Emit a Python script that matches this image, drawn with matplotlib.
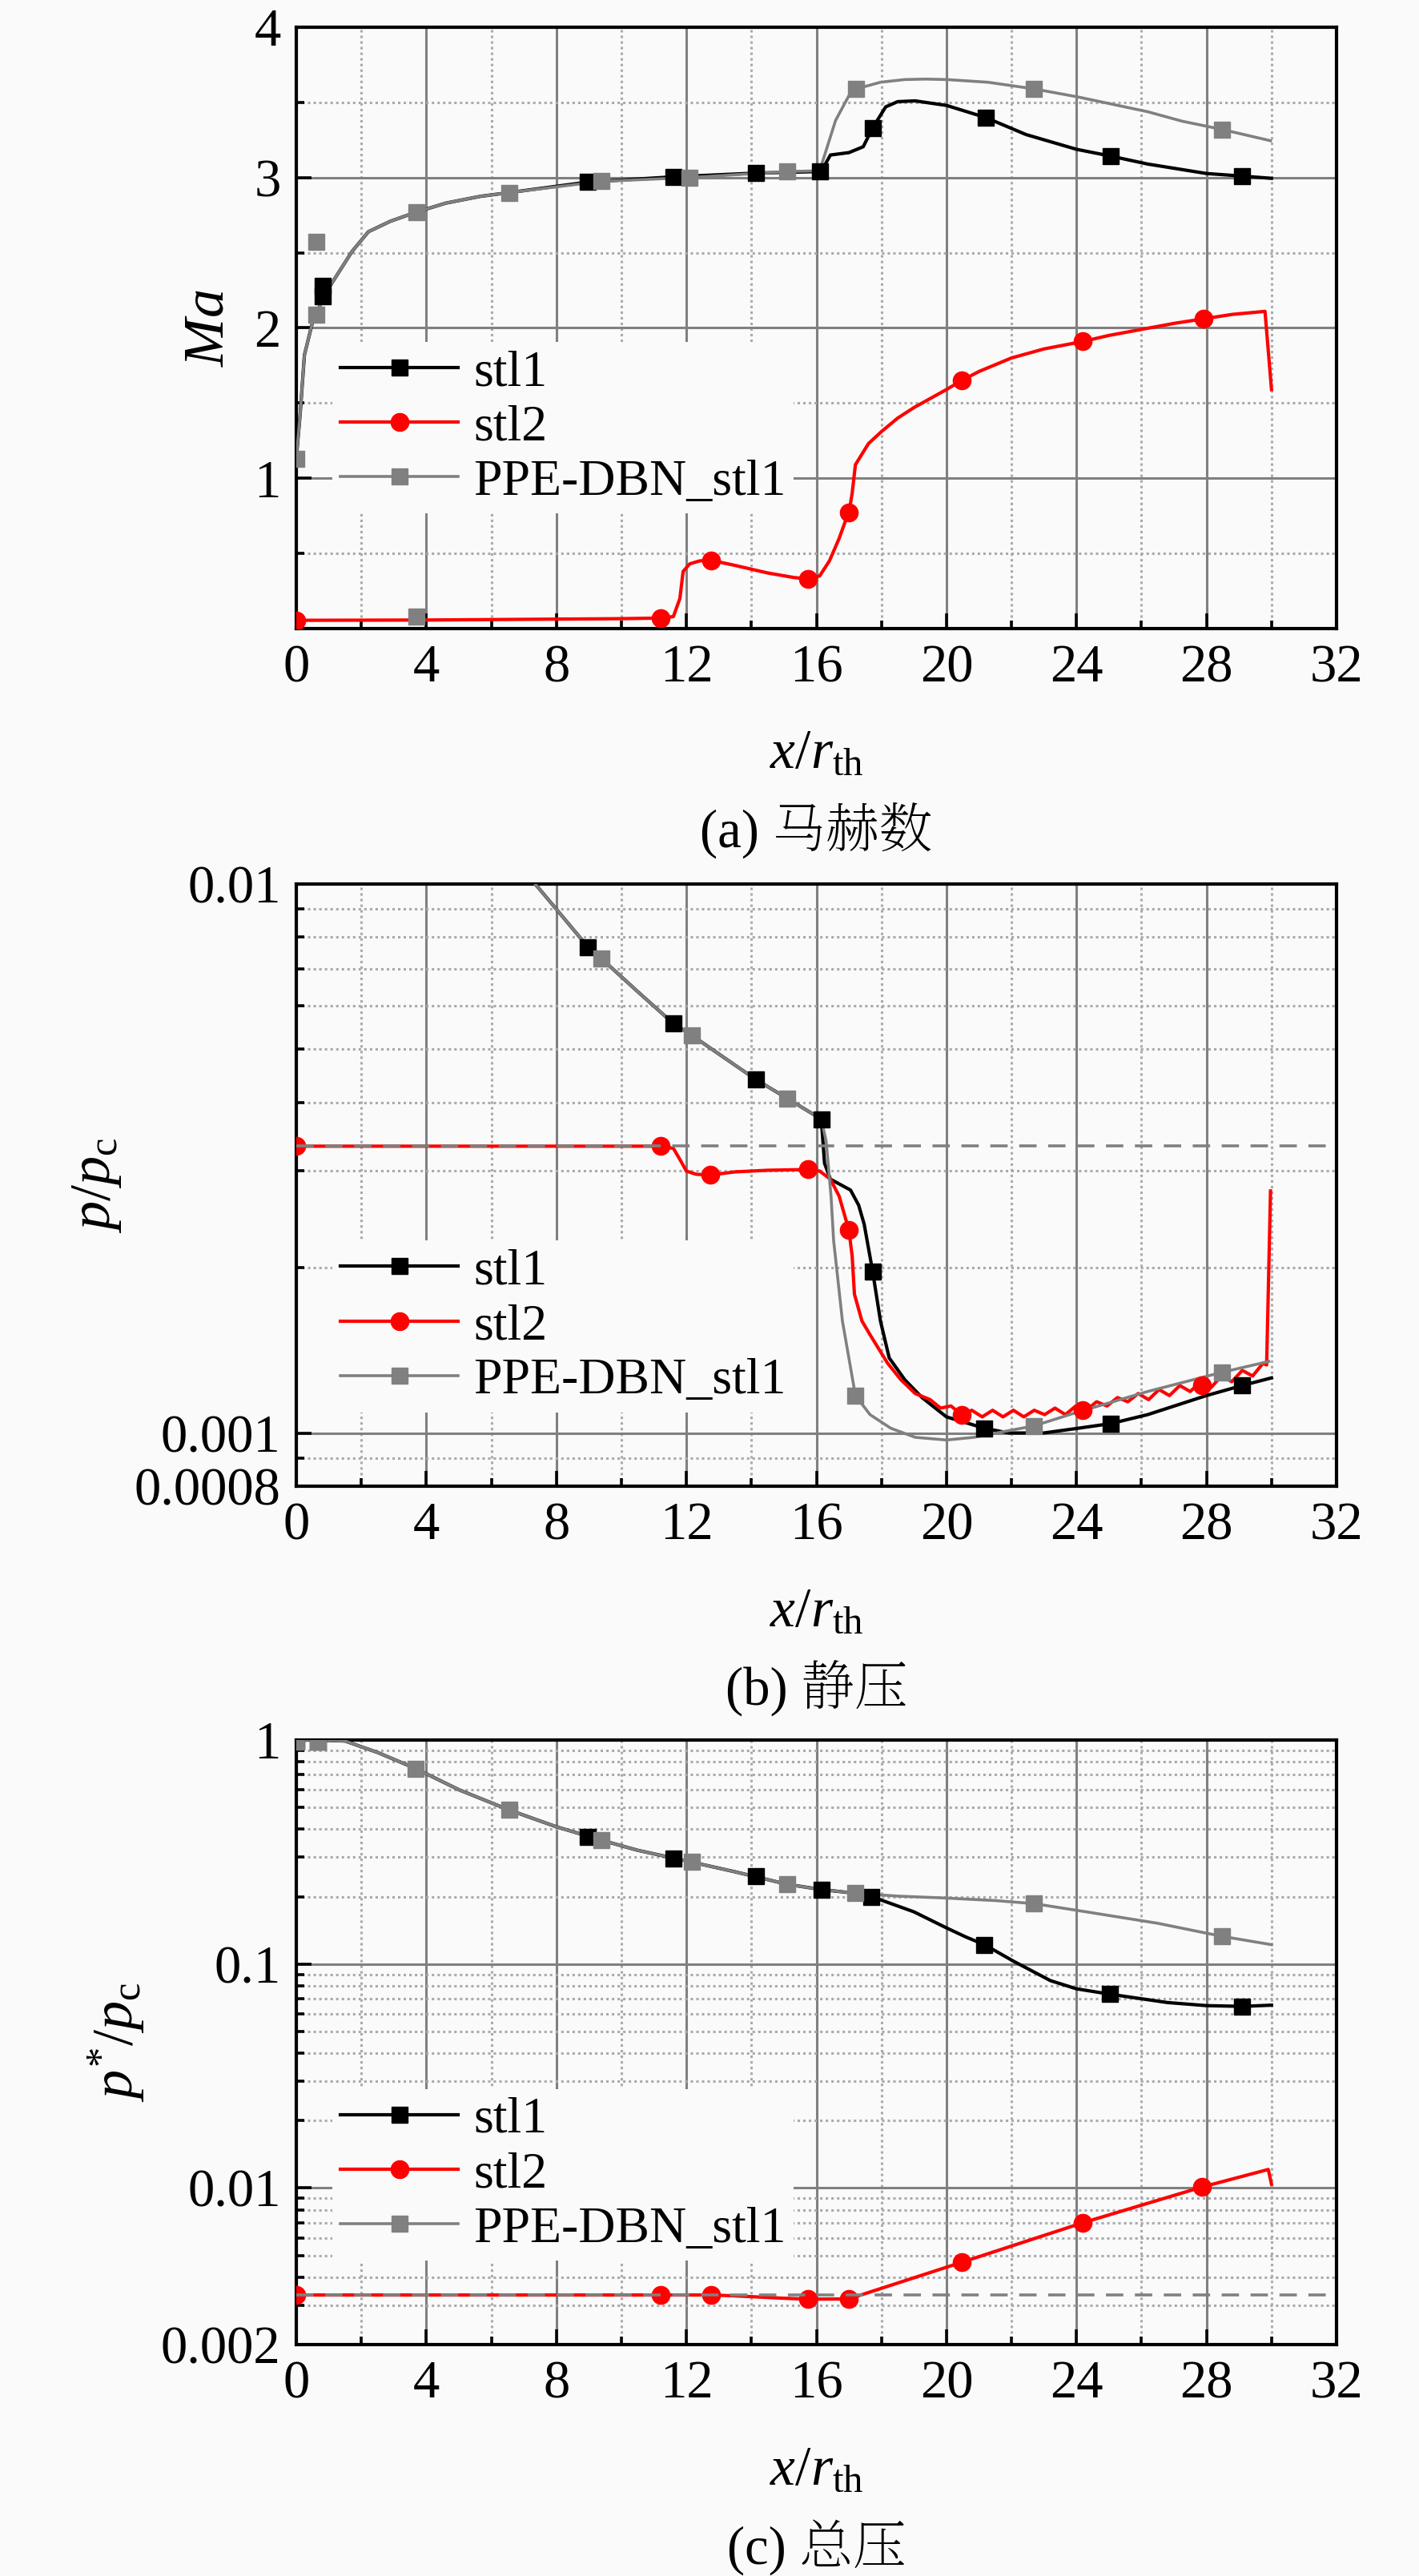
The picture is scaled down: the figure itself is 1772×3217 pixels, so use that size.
import matplotlib
matplotlib.use("Agg")
import matplotlib.pyplot as plt
from matplotlib.lines import Line2D
from matplotlib.ticker import FixedLocator, NullFormatter

plt.rcParams['font.family'] = ['Liberation Serif', 'Noto Serif SC', 'Noto Sans CJK SC']
plt.rcParams['mathtext.fontset'] = 'custom'
plt.rcParams['mathtext.rm'] = 'Liberation Serif'
plt.rcParams['mathtext.it'] = 'Liberation Serif:italic'

BG = '#fafafa'
GRAY = '#808080'
FONTS = ['Liberation Serif', 'Noto Serif SC', 'Noto Sans CJK SC']

# ---------------- (a) Mach number ----------------
ma_stl1_x = [0, 0.12, 0.25, 0.49, 0.62, 0.82, 1.1, 1.72, 2.22, 2.9, 3.69, 4.6, 5.66, 6.55, 8.97, 11.6,
             14.15, 16.1, 16.2, 16.43, 17.0, 17.44, 17.73, 18.13, 18.5, 19.04, 20.0, 21.2, 22.45, 24.0,
             25.05, 26.19, 28.0, 29.09, 30.0]
ma_stl1_y = [1.13, 1.43, 1.82, 2.03, 2.09, 2.2, 2.30, 2.51, 2.64, 2.71, 2.77, 2.83, 2.875, 2.90, 2.97,
             3.005, 3.03, 3.04, 3.06, 3.15, 3.166, 3.205, 3.33, 3.47, 3.505, 3.51, 3.48, 3.40, 3.286,
             3.188, 3.143, 3.09, 3.027, 3.01, 2.995]
ma_stl1_mx = [0.82, 0.82, 8.97, 11.6, 14.15, 16.1, 17.73, 21.2, 25.05, 29.09]
ma_stl1_my = [2.21, 2.28, 2.97, 3.005, 3.03, 3.04, 3.33, 3.40, 3.143, 3.01]

ma_ppe_x = [0, 0.12, 0.25, 0.49, 0.62, 0.82, 1.1, 1.72, 2.22, 2.9, 3.69, 4.6, 5.66, 6.55, 9.39, 12.1,
            15.1, 16.1, 16.59, 17.0, 17.23, 17.97, 18.72, 19.36, 20.0, 21.28, 22.69, 24.05, 26.19,
            27.25, 28.48, 29.97]
ma_ppe_y = [1.13, 1.43, 1.82, 2.03, 2.09, 2.2, 2.30, 2.51, 2.64, 2.71, 2.77, 2.83, 2.875, 2.90, 2.975,
            3.0, 3.04, 3.045, 3.38, 3.545, 3.59, 3.634, 3.652, 3.655, 3.652, 3.634, 3.59, 3.536, 3.438,
            3.375, 3.32, 3.245]
ma_ppe_mx = [0, 0.62, 0.62, 3.69, 3.69, 6.55, 9.39, 12.1, 15.1, 17.23, 22.69, 28.48]
ma_ppe_my = [1.13, 2.09, 2.57, 2.77, 0.08, 2.90, 2.975, 3.0, 3.04, 3.59, 3.59, 3.32]

ma_stl2_x = [0, 2, 4, 6, 8, 10, 11.2, 11.6, 11.8, 11.9, 12.1, 12.4, 12.75, 13.5, 14.5, 15.3, 15.74,
             16.1, 16.4, 16.7, 16.9, 17.0, 17.1, 17.2, 17.6, 18.0, 18.5, 19.0, 19.5, 20.0, 20.47, 21.0,
             22.0, 23.0, 24.2, 25.0, 26.0, 27.0, 27.9, 28.8, 29.8, 30.0]
ma_stl2_y = [0.055, 0.056, 0.057, 0.06, 0.063, 0.066, 0.07, 0.08, 0.2, 0.38, 0.43, 0.45, 0.455, 0.42,
             0.37, 0.34, 0.33, 0.35, 0.45, 0.6, 0.72, 0.77, 0.9, 1.09, 1.23, 1.31, 1.40, 1.47, 1.53,
             1.59, 1.65, 1.71, 1.80, 1.86, 1.91, 1.95, 1.99, 2.03, 2.06, 2.09, 2.11, 1.59]
ma_stl2_mx = [0, 11.2, 12.75, 15.74, 17.0, 20.47, 24.2, 27.9]
ma_stl2_my = [0.055, 0.07, 0.455, 0.33, 0.77, 1.65, 1.91, 2.06]

# ---------------- (b) static pressure ----------------
p_ppe_x = [6.5, 7.35, 8.0, 8.97, 9.39, 10.5, 11.6, 12.17, 13.2, 14.15, 15.1, 16.15, 16.3, 16.45,
           16.53, 16.8, 17.2, 17.65, 18.29, 19.04, 20.0, 20.85, 21.92, 22.69, 24.0, 26.19, 28.48, 29.92]
p_ppe_y = [0.0116, 0.0100, 0.0090, 0.00768, 0.00731, 0.00637, 0.00557, 0.00530, 0.00481, 0.00440,
           0.00407, 0.00373, 0.0034, 0.0027, 0.00224, 0.0016, 0.00117, 0.00108, 0.00102, 0.000982,
           0.000971, 0.000982, 0.00101, 0.00103, 0.00109, 0.00119, 0.00129, 0.00135]
p_ppe_mx = [9.39, 12.17, 15.1, 17.2, 22.69, 28.48]
p_ppe_my = [0.00731, 0.00530, 0.00407, 0.00117, 0.00103, 0.00129]

p_stl1_x = [6.5, 7.35, 8.0, 8.97, 9.39, 10.5, 11.6, 12.17, 13.2, 14.15, 15.1, 16.15, 16.25, 16.43,
            17.05, 17.3, 17.47, 17.73, 17.97, 18.24, 18.72, 19.25, 20.0, 21.17, 21.92, 22.99, 24.05,
            25.05, 26.19, 28.0, 29.09, 30.0]
p_stl1_y = [0.0116, 0.0100, 0.0090, 0.00768, 0.00731, 0.00637, 0.00557, 0.00530, 0.00481, 0.00440,
            0.00407, 0.00373, 0.0031, 0.0029, 0.00277, 0.0026, 0.0024, 0.00197, 0.0016, 0.00137,
            0.00125, 0.00116, 0.00107, 0.00102, 0.00100, 0.00100, 0.00102, 0.00104, 0.00108, 0.00117,
            0.00122, 0.00126]
p_stl1_mx = [8.97, 11.6, 14.15, 16.15, 17.73, 21.17, 25.05, 29.09]
p_stl1_my = [0.00768, 0.00557, 0.00440, 0.00373, 0.00197, 0.00102, 0.00104, 0.00122]

p_stl2_x = [0, 11.2, 11.6, 11.8, 12.0, 12.3, 12.73, 13.5, 14.5, 15.74, 16.1, 16.43, 16.7, 17.0, 17.1,
            17.17, 17.4, 17.65, 18.19, 18.6, 19.04, 19.5, 19.82, 20.14, 20.46, 20.78, 21.10, 21.42,
            21.74, 22.06, 22.38, 22.70, 23.02, 23.34, 23.66, 23.98, 24.30, 24.62, 24.94, 25.26, 25.58,
            25.90, 26.22, 26.54, 26.86, 27.18, 27.50, 27.82, 28.14, 28.46, 28.78, 29.10, 29.42, 29.74,
            29.85, 29.97]
p_stl2_y = [0.00333, 0.00333, 0.00330, 0.00315, 0.00300, 0.00296, 0.00295, 0.00299, 0.00301, 0.00302,
            0.00300, 0.00290, 0.00270, 0.00234, 0.00210, 0.00179, 0.00160, 0.00151, 0.00134, 0.00125,
            0.00118, 0.00115, 0.00111, 0.00112, 0.00108, 0.00110, 0.00107, 0.00110, 0.00107,
            0.00110, 0.00107, 0.00110, 0.00108, 0.00111, 0.00108, 0.00112, 0.00110, 0.00114,
            0.00112, 0.00116, 0.00114, 0.00118, 0.00115, 0.00120, 0.00117, 0.00122, 0.00119,
            0.00124, 0.00121, 0.00127, 0.00124, 0.00130, 0.00127, 0.00134, 0.00133, 0.00276]
p_stl2_mx = [0, 11.2, 12.73, 15.74, 17.0, 20.47, 24.2, 27.86]
p_stl2_my = [0.00333, 0.00333, 0.00295, 0.00302, 0.00234, 0.00108, 0.00110, 0.00122]

# ---------------- (c) total pressure ----------------
pt_ppe_x = [0, 0.67, 1.5, 2.5, 3.68, 5.0, 6.55, 8.0, 9.39, 10.5, 12.17, 13.5, 15.1, 16.15, 17.19,
            18.5, 20.0, 21.5, 22.7, 24.3, 26.5, 28.47, 30.0]
pt_ppe_y = [1.0, 1.0, 0.99, 0.88, 0.745, 0.60, 0.487, 0.41, 0.357, 0.322, 0.285, 0.258, 0.227, 0.215,
            0.207, 0.201, 0.197, 0.192, 0.186, 0.171, 0.152, 0.133, 0.122]
pt_ppe_mx = [0, 0.67, 3.68, 6.55, 9.39, 12.17, 15.1, 17.19, 22.7, 28.47]
pt_ppe_my = [0.98, 0.98, 0.745, 0.487, 0.357, 0.285, 0.227, 0.207, 0.186, 0.133]

pt_stl1_x = [0, 0.67, 1.5, 2.5, 3.68, 5.0, 6.55, 8.0, 9.39, 10.5, 12.17, 13.5, 15.1, 16.15, 17.19,
             17.69, 18.3, 19.0, 20.0, 20.6, 21.17, 22.06, 23.2, 24.0, 25.04, 26.8, 28.0, 29.1, 30.0]
pt_stl1_y = [1.0, 1.0, 0.99, 0.88, 0.745, 0.60, 0.487, 0.41, 0.357, 0.322, 0.285, 0.258, 0.227, 0.215,
             0.207, 0.200, 0.186, 0.171, 0.145, 0.132, 0.122, 0.103, 0.0843, 0.0775, 0.0733, 0.0673,
             0.0652, 0.0647, 0.0655]
pt_stl1_mx = [0, 0.67, 8.97, 11.6, 14.15, 16.15, 17.69, 21.17, 25.04, 29.1]
pt_stl1_my = [0.98, 0.98, 0.37, 0.296, 0.246, 0.215, 0.200, 0.122, 0.0733, 0.0647]

pt_stl2_x = [0, 11.2, 12.75, 13.5, 15.0, 15.74, 17.0, 20.47, 24.2, 27.86, 29.9, 30.0]
pt_stl2_y = [0.00333, 0.00333, 0.00333, 0.00330, 0.00322, 0.00319, 0.00320, 0.00466, 0.0070, 0.0101,
             0.0121, 0.0104]
pt_stl2_mx = [0, 11.2, 12.75, 15.74, 17.0, 20.47, 24.2, 27.86]
pt_stl2_my = [0.00333, 0.00333, 0.00333, 0.00319, 0.00320, 0.00466, 0.0070, 0.0101]

ref_level = 0.00333

names = ['stl1', 'stl2', 'PPE-DBN_stl1']
x_ticks = [0, 4, 8, 12, 16, 20, 24, 28, 32]
x_minor = [2, 6, 10, 14, 18, 22, 26, 30]

fig = plt.figure(figsize=(17.72, 32.17), dpi=100, facecolor=BG)

W, H = 1772, 3217
def box(top, bottom):
    return [370 / W, 1 - bottom / H, 1299 / W, (bottom - top) / H]

ax_a = fig.add_axes(box(34, 785))
ax_b = fig.add_axes(box(1104, 1856))
ax_c = fig.add_axes(box(2173, 2928))

sq = dict(marker='s', ms=15, ls='none')
ci = dict(marker='o', ms=16, ls='none')


def draw(ax, s1, s2, pp):
    ax.plot(s1[0], s1[1], color='black', lw=3, zorder=3)
    ax.plot(s2[0], s2[1], color='red', lw=3, zorder=3)
    ax.plot(pp[0], pp[1], color=GRAY, lw=2.6, zorder=4)
    ax.plot(s1[2], s1[3], color='black', zorder=5, **sq)
    ax.plot(s2[2], s2[3], color='red', zorder=5, **ci)
    ax.plot(pp[2], pp[3], color=GRAY, zorder=6, **sq)


draw(ax_a, (ma_stl1_x, ma_stl1_y, ma_stl1_mx, ma_stl1_my),
     (ma_stl2_x, ma_stl2_y, ma_stl2_mx, ma_stl2_my),
     (ma_ppe_x, ma_ppe_y, ma_ppe_mx, ma_ppe_my))
draw(ax_b, (p_stl1_x, p_stl1_y, p_stl1_mx, p_stl1_my),
     (p_stl2_x, p_stl2_y, p_stl2_mx, p_stl2_my),
     (p_ppe_x, p_ppe_y, p_ppe_mx, p_ppe_my))
draw(ax_c, (pt_stl1_x, pt_stl1_y, pt_stl1_mx, pt_stl1_my),
     (pt_stl2_x, pt_stl2_y, pt_stl2_mx, pt_stl2_my),
     (pt_ppe_x, pt_ppe_y, pt_ppe_mx, pt_ppe_my))

for ax in (ax_b, ax_c):
    ax.axhline(ref_level, color=GRAY, lw=2.6, ls=(0, (6, 4)), zorder=7)

ax_a.set_ylim(0, 4)
ax_a.set_yticks([1, 2, 3, 4])
ax_a.yaxis.set_minor_locator(FixedLocator([0.5, 1.5, 2.5, 3.5]))

ax_b.set_yscale('log')
ax_b.set_ylim(0.0008, 0.01)
ax_b.yaxis.set_major_locator(FixedLocator([0.0008, 0.001, 0.01]))
ax_b.set_yticklabels(['0.0008', '0.001', '0.01'])
ax_b.yaxis.set_minor_locator(FixedLocator([0.0009] + [k * 0.001 for k in range(2, 10)]))

ax_c.set_yscale('log')
ax_c.set_ylim(0.002, 1)
ax_c.yaxis.set_major_locator(FixedLocator([0.002, 0.01, 0.1, 1]))
ax_c.set_yticklabels(['0.002', '0.01', '0.1', '1'])
ax_c.yaxis.set_minor_locator(FixedLocator([k * 0.001 for k in range(3, 10)] +
                                          [k * 0.01 for k in range(2, 10)] +
                                          [k * 0.1 for k in range(2, 10)]))

ylabels = [r'$Ma$', r'$p/p_{\mathrm{c}}$', r'$p^{*}/p_{\mathrm{c}}$']
ylab_x = [-0.084, -0.192, -0.173]
titles = ['(a) 马赫数', '(b) 静压', '(c) 总压']
leg_y = [0.334, 0.265, 0.281]

for ax, yl, lx, ti, ly in zip((ax_a, ax_b, ax_c), ylabels, ylab_x, titles, leg_y):
    ax.set_facecolor(BG)
    ax.set_xlim(0, 32)
    ax.set_xticks(x_ticks)
    ax.xaxis.set_minor_locator(FixedLocator(x_minor))
    ax.yaxis.set_minor_formatter(NullFormatter())
    ax.set_axisbelow(True)
    ax.grid(which='major', color=GRAY, lw=2.2, ls='-', zorder=0)
    ax.grid(which='minor', color='#aaaaaa', lw=2.2, ls=(0, (1, 1.3)), zorder=0)
    ax.tick_params(which='both', direction='in', top=False, right=False,
                   labelsize=48, width=2.6, pad=14)
    ax.tick_params(which='major', length=14)
    ax.tick_params(which='minor', length=7)
    for lab in ax.get_xticklabels() + ax.get_yticklabels():
        lab.set_family(FONTS)
    for sp in ax.spines.values():
        sp.set_linewidth(3)
    ax.set_xlabel(r'$x/r_{\mathrm{th}}$', fontsize=50)
    ax.xaxis.set_label_coords(0.5, -0.209)
    ax.xaxis.label.set_va('center')
    ax.set_ylabel(yl, fontsize=52)
    ax.yaxis.set_label_coords(lx, 0.5)
    ax.yaxis.label.set_va('center')
    ax.text(0.5, -0.335, ti, transform=ax.transAxes, ha='center', va='center',
            fontsize=48, family=FONTS)

    handles = [Line2D([], [], color='black', lw=3, marker='s', ms=15),
               Line2D([], [], color='red', lw=3, marker='o', ms=16),
               Line2D([], [], color=GRAY, lw=2.6, marker='s', ms=15)]
    leg = ax.legend(handles, names, loc='center left', bbox_to_anchor=(0.035, ly),
                    prop={'family': FONTS, 'size': 46},
                    handlelength=2.3, handletextpad=0.3, labelspacing=0.15,
                    borderpad=0.15, borderaxespad=0, frameon=True, facecolor=BG,
                    edgecolor='none', framealpha=1, fancybox=False)
    leg.set_zorder(8)

fig.savefig('out.png', dpi=100, facecolor=BG)
